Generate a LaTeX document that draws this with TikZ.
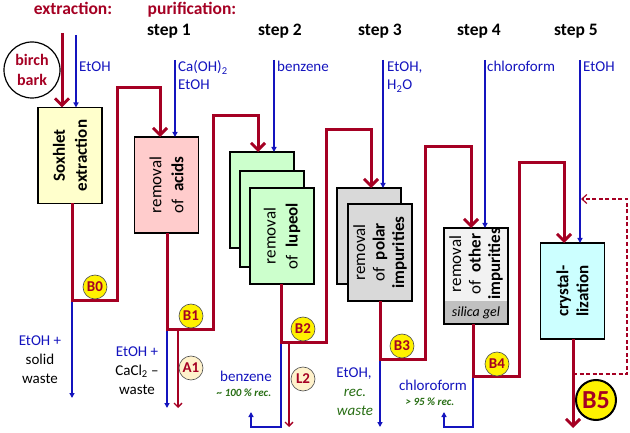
\documentclass[tikz,border=0pt]{standalone}
\usepackage{fontspec}
\setmainfont{Carlito}
\usetikzlibrary{arrows.meta}
\definecolor{dred}{RGB}{165,0,35}
\definecolor{dblue}{RGB}{20,20,190}
\definecolor{dgreen}{RGB}{40,110,20}
\definecolor{soxfill}{RGB}{255,255,204}
\definecolor{pinkfill}{RGB}{255,204,204}
\definecolor{greenfill}{RGB}{204,255,204}
\definecolor{grayfill}{RGB}{217,217,217}
\definecolor{lightfill}{RGB}{242,242,242}
\definecolor{silicafill}{RGB}{192,192,192}
\definecolor{cyanfill}{RGB}{204,255,255}
\definecolor{cream}{RGB}{255,242,204}
\begin{document}
\begin{tikzpicture}[x=1pt,y=-1pt,
 redthick/.style={draw=dred,line width=3pt},
 redarr/.style={redthick,-{Straight Barb[length=7pt,width=14pt]}},
 bluearr/.style={draw=dblue,line width=1.3pt,-{Triangle[length=5pt,width=5pt]}},
 redthin/.style={draw=dred,line width=1.4pt,-{Straight Barb[length=4pt,width=8pt]}},
 dasharr/.style={draw=dred,line width=1.2pt,dash pattern=on 4pt off 2.5pt,-{Straight Barb[length=5pt,width=9pt]}},
 proc/.style={draw=black,line width=1.6pt,minimum width=64pt,minimum height=96pt,inner sep=0pt,outer sep=0pt},
 boxtext/.style={rotate=90,align=center,font=\fontsize{17}{22}\selectfont},
 boxtextc/.style={rotate=90,align=center,font=\fontsize{17}{19.5}\selectfont},
 badge/.style={circle,draw=black!70,line width=0.6pt,fill=yellow,text=dred,font=\bfseries\fontsize{15}{15}\selectfont,inner sep=0pt,minimum size=24pt},
 badgeA/.style={badge,fill=cream},
 lbl/.style={font=\fontsize{15}{18}\selectfont,inner sep=0pt,anchor=base},
 blbl/.style={lbl,text=dblue},
 tlbl/.style={blbl,anchor=base west},
 glbl/.style={inner sep=0pt,anchor=base,text=dgreen,font=\itshape\fontsize{15}{18}\selectfont},
 gsm/.style={inner sep=0pt,anchor=base,text=dgreen,font=\bfseries\itshape\fontsize{11}{13}\selectfont},
 hdr/.style={inner sep=0pt,font=\bfseries\fontsize{17.5}{20}\selectfont,anchor=base}
]
\useasboundingbox (0,0) rectangle (630,433);

% headers
\node[hdr,text=dred] (hE) at (73,15) {extraction:};
\node[hdr,text=dred] (hP) at (192,15) {purification:};
\node[hdr] (st1) at (169,36) {step 1};
\node[hdr] (st2) at (280,36) {step 2};
\node[hdr] (st3) at (380,36) {step 3};
\node[hdr] (st4) at (479,36) {step 4};
\node[hdr] (st5) at (576,36) {step 5};

% birch bark
\node[circle,draw=black,line width=1.2pt,minimum size=56pt,inner sep=0pt,align=center,text=dred,font=\bfseries\fontsize{16}{20}\selectfont] (bark) at (32,70) {birch\\bark};

% process boxes
\node[proc,fill=soxfill] (sox) at (70,155.5) {};
\node[boxtext] (soxT) at (sox) {\textbf{Soxhlet}\\\textbf{extraction}};
\node[proc,fill=pinkfill] (b1) at (166.5,185) {};
\node[boxtext] (b1T) at (b1) {removal\\of\ \ \textbf{acids}};
\node[proc,fill=greenfill] (b2a) at (262,200) {};
\node[proc,fill=greenfill] (b2b) at (272,219) {};
\node[proc,fill=greenfill] (b2c) at (282,236) {};
\node[boxtext] (b2T) at (b2c) {removal\\of\ \ \textbf{lupeol}};
\node[proc,fill=grayfill] (b3a) at (369,236) {};
\node[proc,fill=grayfill,minimum height=97pt] (b3b) at (380,252.5) {};
\node[boxtextc] (b3T) at (b3b) {removal\\of\ \ \textbf{polar}\\\textbf{impurities}};
\node[proc,fill=lightfill] (b4) at (476,276) {};
\fill[silicafill] (b4.south west) rectangle ([yshift=23pt]b4.south east);
\draw[line width=1.6pt] (b4.south west) rectangle (b4.north east);
\node[boxtextc] (b4T) at (476,264) {removal\\of\ \ \textbf{other}\\\textbf{impurities}};
\node[inner sep=0pt,font=\itshape\fontsize{14}{16}\selectfont] (sil) at (476,313) {silica gel};
\node[proc,fill=cyanfill] (b5) at (572.5,291) {};
\node[boxtext,font=\fontsize{17}{20}\selectfont] (b5T) at (b5) {\textbf{crystal-}\\\textbf{lization}};

% coordinates
\coordinate (e0) at (62,33);
\coordinate (e1) at (76,35);
\coordinate (s1) at (175,60);
\coordinate (s2) at (274,60);
\coordinate (s3) at (383,60);
\coordinate (s4) at (485,60);
\coordinate (s5) at (580,60);
\coordinate (r0a) at (72,300);  \coordinate (r0b) at (117,300);
\coordinate (r0c) at (117,88);  \coordinate (r0d) at (160,88);
\coordinate (r1a) at (167,329); \coordinate (r1b) at (213,329);
\coordinate (r1c) at (213,116); \coordinate (r1d) at (258,116);
\coordinate (r2a) at (281,342); \coordinate (r2b) at (326,342);
\coordinate (r2c) at (326,130); \coordinate (r2d) at (371,130);
\coordinate (r3a) at (380,359); \coordinate (r3b) at (425,359);
\coordinate (r3c) at (425,147); \coordinate (r3d) at (471,147);
\coordinate (r4a) at (473,376); \coordinate (r4b) at (519,376);
\coordinate (r4c) at (519,163); \coordinate (r4d) at (564,163);
\coordinate (w0) at (72,398);
\coordinate (w1) at (167,408);
\coordinate (w2a) at (281,427); \coordinate (w2b) at (251,427); \coordinate (w2c) at (251,412);
\coordinate (w3) at (380,427);
\coordinate (w4a) at (473,427); \coordinate (w4b) at (444,427); \coordinate (w4c) at (444,412);
\coordinate (t1a) at (178,329); \coordinate (t1b) at (178,408);
\coordinate (t2a) at (289,342); \coordinate (t2b) at (289,427);
\coordinate (f5) at (573,428);
\coordinate (d1) at (573,374); \coordinate (d2) at (627,374);
\coordinate (d3) at (627,199); \coordinate (d4) at (581,199);

% blue feed arrows
\draw[bluearr] (e1) -- (e1 |- sox.north);
\draw[bluearr] (s1) -- (s1 |- b1.north);
\draw[bluearr] (s2) -- (s2 |- b2a.north);
\draw[bluearr] (s3) -- (s3 |- b3a.north);
\draw[bluearr] (s4) -- (s4 |- b4.north);
\draw[bluearr] (s5) -- (s5 |- b5.north);

% blue outputs
\draw[bluearr] (r0a) -- (w0);
\draw[bluearr] (r1a) -- (w1);
\draw[bluearr] (r2a) -- (w2a) -- (w2b) -- (w2c);
\draw[bluearr] (r3a) -- (w3);
\draw[bluearr] (r4a) -- (w4a) -- (w4b) -- (w4c);

% thin red outputs
\draw[redthin] (t1a) -- (t1b);
\draw[redthin] (t2a) -- (t2b);

% dashed recycle
\draw[dasharr] (d1) -- (d2) -- (d3) -- (d4);

% main red flow
\draw[redarr] (e0) -- (e0 |- sox.north);
\draw[redarr] (sox.south -| r0a) -- (r0a) -- (r0b) -- (r0c) -- (r0d) -- (r0d |- b1.north);
\draw[redarr] (b1.south -| r1a) -- (r1a) -- (r1b) -- (r1c) -- (r1d) -- (r1d |- b2a.north);
\draw[redarr] (b2c.south -| r2a) -- (r2a) -- (r2b) -- (r2c) -- (r2d) -- (r2d |- b3a.north);
\draw[redarr] (b3b.south -| r3a) -- (r3a) -- (r3b) -- (r3c) -- (r3d) -- (r3d |- b4.north);
\draw[redarr] (b4.south -| r4a) -- (r4a) -- (r4b) -- (r4c) -- (r4d) -- (r4d |- b5.north);
\draw[redarr] (b5.south -| f5) -- (f5);

% badges
\node[badge] (B0) at (95,287) {B0};
\node[badge] (B1) at (191,316) {B1};
\node[badgeA] (A1) at (191,368) {A1};
\node[badge] (B2) at (303,329) {B2};
\node[badgeA] (L2) at (303,379) {L2};
\node[badge] (B3) at (402,346) {B3};
\node[badge] (B4) at (497,364) {B4};
\node[badge,minimum size=40pt,line width=2pt,draw=black,font=\bfseries\fontsize{26}{26}\selectfont] (B5) at (596,400) {B5};

% top labels
\node[tlbl] (lE0) at (79,72) {EtOH};
\node[tlbl] (lS1a) at (178,72) {Ca(OH)\textsubscript{2}};
\node[tlbl] (lS1b) at (178,90) {EtOH};
\node[tlbl] (lS2) at (277,72) {benzene};
\node[tlbl] (lS3a) at (387,72) {EtOH,};
\node[tlbl] (lS3b) at (387,90) {H\textsubscript{2}O};
\node[tlbl] (lS4) at (487,72) {chloroform};
\node[tlbl] (lS5) at (583,72) {EtOH};

% bottom labels
\node[blbl] (o0a) at (40,345) {EtOH +};
\node[lbl] (o0b) at (40,364) {solid};
\node[lbl] (o0c) at (40,383) {waste};
\node[blbl] (o1a) at (137,356) {EtOH +};
\node[lbl] (o1b) at (137,375) {CaCl\textsubscript{2} –};
\node[lbl] (o1c) at (137,394) {waste};
\node[blbl] (o2a) at (246,381) {benzene};
\node[gsm] (o2b) at (244,396) {\textasciitilde{} 100 \% rec.};
\node[blbl] (o3a) at (354,377) {EtOH,};
\node[glbl] (o3b) at (355,396) {rec.};
\node[glbl] (o3c) at (355,415) {waste};
\node[blbl] (o4a) at (433,390) {chloroform};
\node[gsm] (o4b) at (430,405) {> 95 \% rec.};
\end{tikzpicture}
\end{document}
